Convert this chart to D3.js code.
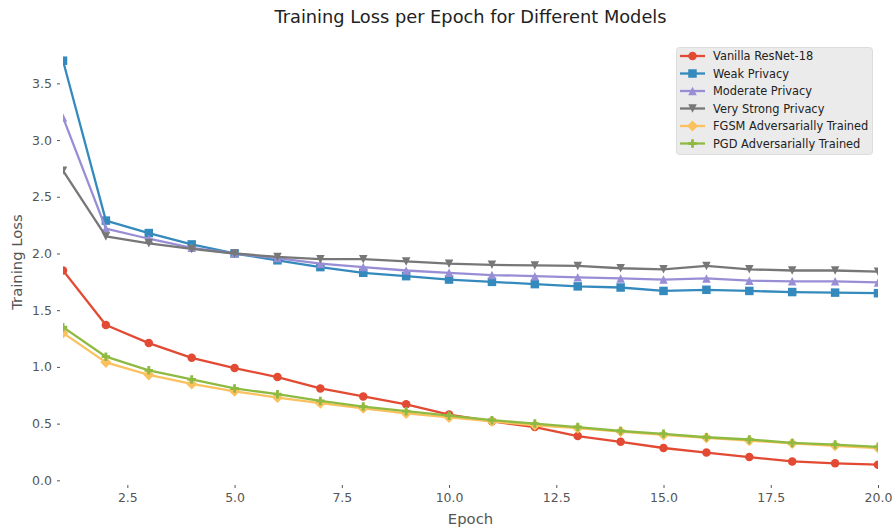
<!DOCTYPE html>
<html>
<head>
<meta charset="utf-8">
<script src="https://cdn.jsdelivr.net/npm/d3@7"></script>
<style>
  body { margin: 0; background: #fff; }
  text { font-family: "DejaVu Sans", sans-serif; }
</style>
</head>
<body>
<div id="chart"></div>
<script>
// data
var epochs = [1,2,3,4,5,6,7,8,9,10,11,12,13,14,15,16,17,18,19,20];
var vanilla  = [1.85,1.37,1.21,1.08,0.99,0.91,0.81,0.74,0.67,0.58,0.52,0.47,0.39,0.34,0.285,0.245,0.205,0.167,0.15,0.138];
var weak     = [3.70,2.29,2.18,2.08,2.00,1.94,1.88,1.83,1.80,1.77,1.75,1.73,1.71,1.70,1.67,1.68,1.67,1.66,1.655,1.65];
var moderate = [3.20,2.22,2.13,2.05,2.00,1.96,1.91,1.88,1.85,1.83,1.81,1.80,1.79,1.78,1.77,1.78,1.76,1.755,1.755,1.745];
var strong   = [2.73,2.15,2.09,2.04,2.00,1.97,1.95,1.95,1.93,1.91,1.90,1.895,1.89,1.87,1.86,1.89,1.86,1.85,1.85,1.84];
var fgsm     = [1.30,1.04,0.93,0.85,0.785,0.73,0.68,0.635,0.59,0.555,0.52,0.485,0.46,0.43,0.40,0.375,0.35,0.325,0.305,0.285];
var pgd      = [1.35,1.09,0.97,0.89,0.81,0.76,0.70,0.65,0.61,0.57,0.53,0.50,0.47,0.435,0.41,0.38,0.36,0.33,0.315,0.295];

var seriesNames = ["Vanilla ResNet-18","Weak Privacy","Moderate Privacy","Very Strong Privacy","FGSM Adversarially Trained","PGD Adversarially Trained"];
var seriesValues = [vanilla, weak, moderate, strong, fgsm, pgd];
var seriesColors = ["#E24A33","#348ABD","#988ED5","#777777","#FBC15E","#8EBA42"];
var seriesMarkers = ["circle","square","triangleUp","triangleDown","diamond","plus"];

var xTicks = [2.5,5.0,7.5,10.0,12.5,15.0,17.5,20.0];
var yTicks = [0.0,0.5,1.0,1.5,2.0,2.5,3.0,3.5];

var W = 893, H = 531;
var mLeft = 63, mRight = 878, mTop = 38, mBottom = 486;
var ms = 8.5;

var svg = d3.select("#chart").append("svg")
  .attr("width", W).attr("height", H);

var x = d3.scaleLinear().domain([1, 20]).range([mLeft, mRight]);
var y = d3.scaleLinear().domain([-0.05, 3.90]).range([mBottom, mTop]);

// matplotlib-like marker paths, s = marker size in px
function markerPath(kind, s) {
  var h = s / 2, p;
  if (kind === "circle") {
    return d3.symbol(d3.symbolCircle, Math.PI * h * h)();
  } else if (kind === "square") {
    p = [[-h,-h],[h,-h],[h,h],[-h,h]];
  } else if (kind === "triangleUp") {
    p = [[0,-h],[h,h],[-h,h]];
  } else if (kind === "triangleDown") {
    p = [[0,h],[h,-h],[-h,-h]];
  } else if (kind === "diamond") {
    var d = h * 1.3;
    p = [[0,-d],[d,0],[0,d],[-d,0]];
  } else {
    var a = s / 6, b = s / 2;
    p = [[-a,-b],[a,-b],[a,-a],[b,-a],[b,a],[a,a],[a,b],[-a,b],[-a,a],[-b,a],[-b,-a],[-a,-a]];
  }
  return "M" + p.map(function (q) { return q[0] + "," + q[1]; }).join("L") + "Z";
}

svg.append("clipPath").attr("id", "clip")
  .append("rect")
  .attr("x", mLeft).attr("y", mTop)
  .attr("width", mRight - mLeft).attr("height", mBottom - mTop);

var plot = svg.append("g").attr("clip-path", "url(#clip)");

var line = d3.line()
  .x(function (d) { return x(d[0]); })
  .y(function (d) { return y(d[1]); });

seriesValues.forEach(function (vals, i) {
  var pts = epochs.map(function (e, j) { return [e, vals[j]]; });
  var g = plot.append("g");
  g.append("path")
    .attr("d", line(pts))
    .attr("fill", "none")
    .attr("stroke", seriesColors[i])
    .attr("stroke-width", 2.3)
    .attr("stroke-linejoin", "round");
  g.selectAll("path.m")
    .data(pts)
    .enter()
    .append("path")
    .attr("class", "m")
    .attr("d", markerPath(seriesMarkers[i], ms))
    .attr("transform", function (d) { return "translate(" + x(d[0]) + "," + y(d[1]) + ")"; })
    .attr("fill", seriesColors[i]);
});

// axes (no spines), short ticks a little away from the plot area
var xAxis = svg.append("g")
  .attr("transform", "translate(0," + (mBottom - 1) + ")")
  .call(d3.axisBottom(x).tickValues(xTicks).tickFormat(d3.format(".1f")).tickSize(3).tickPadding(5));
var yAxis = svg.append("g")
  .attr("transform", "translate(" + (mLeft - 3) + ",0)")
  .call(d3.axisLeft(y).tickValues(yTicks).tickFormat(d3.format(".1f")).tickSize(3).tickPadding(5));

[xAxis, yAxis].forEach(function (ax) {
  ax.select(".domain").remove();
  ax.selectAll("line").attr("stroke", "#555555");
  ax.selectAll("text")
    .attr("fill", "#555555")
    .style("font-size", "12.5px")
    .style("font-family", "DejaVu Sans");
});

svg.append("text")
  .attr("x", (mLeft + mRight) / 2).attr("y", 524)
  .attr("text-anchor", "middle")
  .attr("fill", "#555555")
  .style("font-size", "14.8px")
  .text("Epoch");

svg.append("text")
  .attr("transform", "translate(22," + (mTop + mBottom) / 2 + ") rotate(-90)")
  .attr("text-anchor", "middle")
  .attr("fill", "#555555")
  .style("font-size", "14.8px")
  .text("Training Loss");

svg.append("text")
  .attr("x", (mLeft + mRight) / 2).attr("y", 23)
  .attr("text-anchor", "middle")
  .attr("fill", "#222222")
  .style("font-size", "17.8px")
  .text("Training Loss per Epoch for Different Models");

// legend
var lg = svg.append("g");
lg.append("rect")
  .attr("x", 676.5).attr("y", 47.5)
  .attr("width", 196).attr("height", 107)
  .attr("rx", 3)
  .attr("fill", "#EBEBEB")
  .attr("stroke", "#DCDCDC");

seriesNames.forEach(function (name, i) {
  var cy = 56 + i * 17.5;
  var row = lg.append("g");
  row.append("line")
    .attr("x1", 680).attr("x2", 705)
    .attr("y1", cy).attr("y2", cy)
    .attr("stroke", seriesColors[i])
    .attr("stroke-width", 2.3);
  row.append("path")
    .attr("d", markerPath(seriesMarkers[i], ms))
    .attr("transform", "translate(692.5," + cy + ")")
    .attr("fill", seriesColors[i]);
  row.append("text")
    .attr("x", 713).attr("y", cy + 4)
    .attr("fill", "#222222")
    .style("font-size", "11.4px")
    .text(name);
});
</script>
</body>
</html>
